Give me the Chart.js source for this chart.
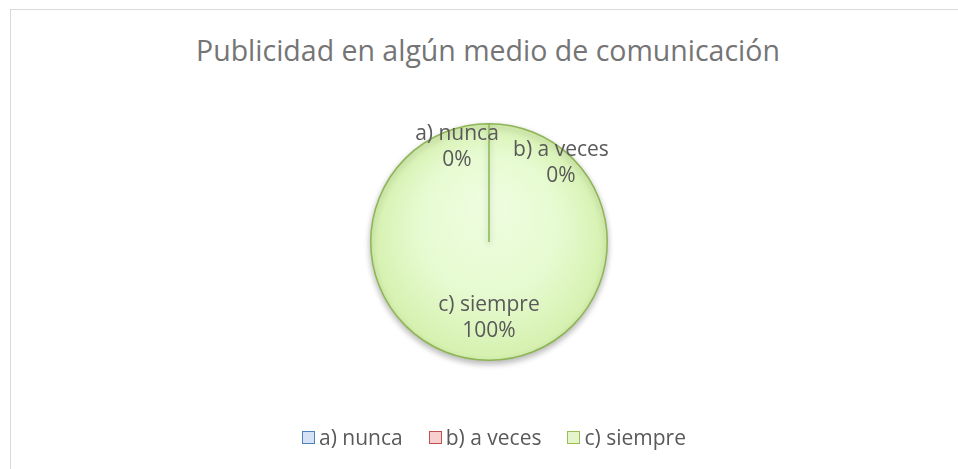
<!DOCTYPE html>
<html>
<head>
<meta charset="utf-8">
<script src="https://cdn.jsdelivr.net/npm/chart.js@4.4.0/dist/chart.umd.min.js"></script>
<style>
  body { margin: 0; background: #fff; width: 958px; height: 469px; overflow: hidden; font-family: "Open Sans", sans-serif; color: #595959; }
  #frame { position: absolute; left: 10px; top: 9px; width: 960px; height: 470px; border: 1px solid #d9d9d9; box-sizing: border-box; }
  #title { position: absolute; left: 0; top: 31px; width: 976px; text-align: center; font-size: 28.5px; line-height: 38px; color: #757575; }
  #wrap { position: absolute; left: 0; top: 0; width: 958px; height: 469px; }
  #legend { position: absolute; left: 0; top: 422px; width: 988px; display: flex; justify-content: center; font-size: 21px; line-height: 30px; }
  .item { display: flex; align-items: center; margin: 0 13px; }
  .box { width: 11px; height: 11px; margin-right: 4px; border: 1px solid; }
</style>
</head>
<body>
<div id="frame"></div>
<div id="title">Publicidad en algún medio de comunicación</div>
<div id="wrap"><canvas id="pie" width="958" height="469"></canvas></div>
<div id="legend"></div>
<script>
/* ---------- DATA ---------- */
const categories = ["a) nunca", "b) a veces", "c) siempre"];
const values = [0, 0, 100];
const percentLabels = ["0%", "0%", "100%"];

/* ---------- STYLE ---------- */
const legendFill = ["#d5e2f3", "#f6cfce", "#e4f5cc"];
const legendStroke = ["#4f81bd", "#c0504d", "#9bbb59"];
const sliceBorder = "#8db553";
const labelShift = [[-32, 0], [72, 16], [0, 0]]; // Excel best-fit offsets

function sliceFill(ctx) {
  const chart = ctx.chart;
  const a = chart.chartArea;
  if (!a) return "#e4f7cc";
  const cx = (a.left + a.right) / 2, cy = (a.top + a.bottom) / 2;
  const r = Math.min(a.width, a.height) / 2;
  const g = chart.ctx.createRadialGradient(cx, cy - r * 0.35, 0, cx, cy, r * 1.05);
  g.addColorStop(0, "#eefde0");
  g.addColorStop(0.55, "#e7fbd2");
  g.addColorStop(1, "#d3efaa");
  return g;
}

/* ---------- PLUGINS ---------- */
const shadowPlugin = {
  id: "shadow",
  beforeDatasetsDraw(chart) {
    const c = chart.ctx;
    c.save();
    c.shadowColor = "rgba(0,0,0,0.28)";
    c.shadowBlur = 6;
    c.shadowOffsetY = 3;
  },
  afterDatasetsDraw(chart) {
    chart.ctx.restore();
  }
};

const labelPlugin = {
  id: "sliceLabels",
  afterDatasetsDraw(chart) {
    const c = chart.ctx;
    const arcs = chart.getDatasetMeta(0).data;
    c.save();
    c.font = '21px "Open Sans", sans-serif';
    c.fillStyle = "#595959";
    c.textAlign = "center";
    c.textBaseline = "middle";
    arcs.forEach((arc, i) => {
      const p = arc.getProps(["x", "y", "startAngle", "endAngle", "outerRadius"], true);
      const mid = (p.startAngle + p.endAngle) / 2;
      const k = values[i] === 0 ? 0.8 : 0.64;
      const x = p.x + Math.cos(mid) * p.outerRadius * k + labelShift[i][0];
      const y = p.y + Math.sin(mid) * p.outerRadius * k + labelShift[i][1];
      c.fillText(categories[i], x, y - 13);
      c.fillText(percentLabels[i], x, y + 13);
    });
    c.restore();
  }
};

/* ---------- CHART ---------- */
new Chart(document.getElementById("pie"), {
  type: "pie",
  data: {
    labels: categories,
    datasets: [{
      data: values,
      backgroundColor: sliceFill,
      borderColor: sliceBorder,
      borderWidth: 1.5
    }]
  },
  options: {
    responsive: false,
    animation: false,
    devicePixelRatio: 1,
    layout: { padding: { left: 370, right: 350, top: 123, bottom: 108 } },
    plugins: {
      legend: { display: false },
      tooltip: { enabled: false }
    }
  },
  plugins: [shadowPlugin, labelPlugin]
});

/* ---------- LEGEND ---------- */
const legend = document.getElementById("legend");
categories.forEach((name, i) => {
  const item = document.createElement("div");
  item.className = "item";
  const box = document.createElement("span");
  box.className = "box";
  box.style.background = legendFill[i];
  box.style.borderColor = legendStroke[i];
  item.appendChild(box);
  item.appendChild(document.createTextNode(name));
  legend.appendChild(item);
});
</script>
</body>
</html>
